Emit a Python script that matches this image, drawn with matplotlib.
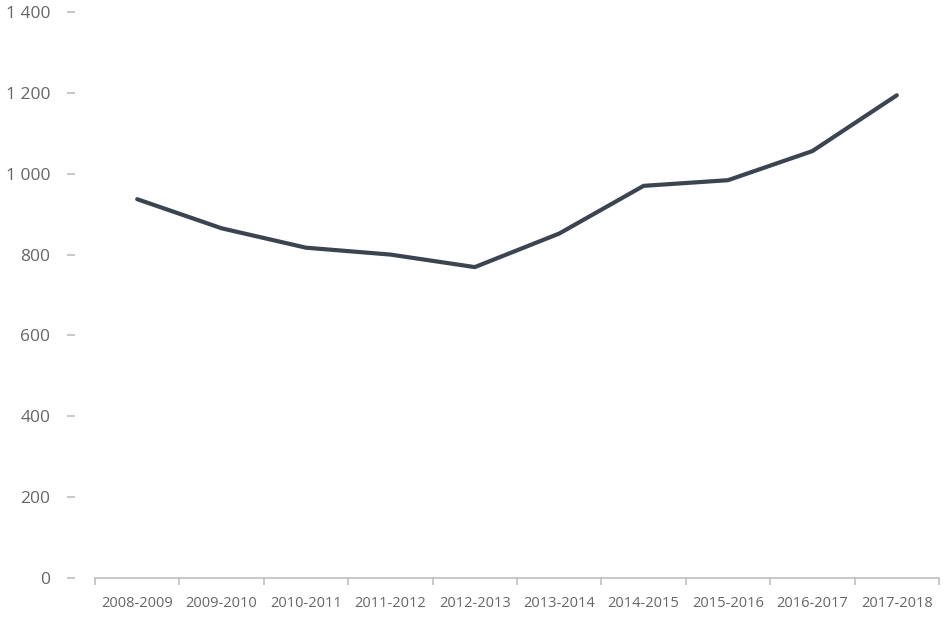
import numpy as np
import matplotlib
matplotlib.use('Agg')
import matplotlib.pyplot as plt
from matplotlib.ticker import FuncFormatter, FixedLocator

# Données
saisons = ['2008-2009', '2009-2010', '2010-2011', '2011-2012', '2012-2013',
           '2013-2014', '2014-2015', '2015-2016', '2016-2017', '2017-2018']
valeurs = [937, 865, 817, 800, 769, 852, 970, 984, 1056, 1194]
yticks = [0, 200, 400, 600, 800, 1000, 1200, 1400]

couleur_ligne = '#3b4450'
couleur_texte = '#666666'
couleur_axe = '#bfbfbf'

plt.rcParams['font.family'] = ['Open Sans', 'DejaVu Sans']

fig = plt.figure(figsize=(9.43, 6.22), dpi=100)
ax = fig.add_axes([95 / 943, 1 - 578 / 622, (939 - 95) / 943, (578 - 12) / 622])

x = np.arange(len(saisons))
ax.plot(x, valeurs, color=couleur_ligne, linewidth=3, solid_capstyle='round',
        solid_joinstyle='round')

ax.set_xlim(-0.5, len(saisons) - 0.5)
ax.set_ylim(0, 1400)

# axe x : ligne grise avec petites graduations entre les catégories
for s in ['top', 'right']:
    ax.spines[s].set_visible(False)
ax.spines['bottom'].set_color(couleur_axe)
ax.spines['bottom'].set_linewidth(1.2)
ax.set_xticks(x)
ax.set_xticklabels(saisons, fontsize=10.5, color=couleur_texte)
ax.xaxis.set_minor_locator(FixedLocator(np.arange(-0.5, len(saisons), 1.0)))
ax.tick_params(axis='x', which='major', length=0, pad=13)
ax.tick_params(axis='x', which='minor', length=5, color=couleur_axe, width=1.2,
               direction='out')

# axe y : pas de ligne, tirets détachés
ax.spines['left'].set_position(('outward', 14.4))
ax.spines['left'].set_visible(False)
ax.set_yticks(yticks)
ax.yaxis.set_major_formatter(FuncFormatter(lambda v, p: f'{int(v):,}'.replace(',', ' ')))
ax.tick_params(axis='y', length=5.8, color=couleur_axe, width=1.2, pad=12,
               labelsize=12.5, labelcolor=couleur_texte)

fig.savefig('out.png', dpi=100)
